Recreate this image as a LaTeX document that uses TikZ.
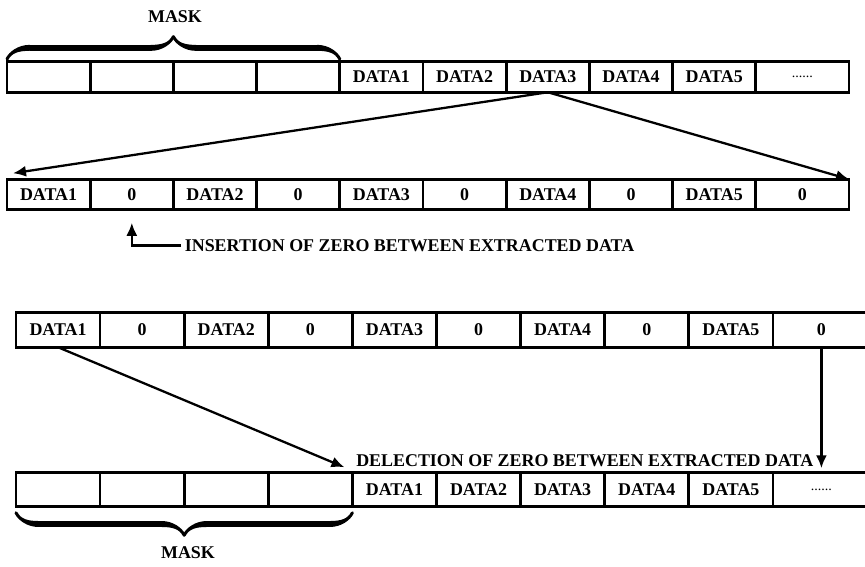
\documentclass[tikz,border=0pt]{standalone}
\usepackage{fontspec}
\setmainfont{Liberation Serif}
\usetikzlibrary{arrows.meta,decorations.pathreplacing,calligraphy}

\tikzset{
  cellaA/.style={draw, line width=1.5pt, inner sep=0pt, outer sep=0pt,
    minimum width=1.664cm, minimum height=0.61cm,
    font=\fontsize{10.2}{12}\selectfont\bfseries},
  cellaB/.style={cellaA, minimum width=1.682cm, minimum height=0.69cm},
  etich/.style={font=\fontsize{10.2}{12}\selectfont\bfseries, inner sep=2pt},
  freccia/.style={-{Latex[length=2.6mm,width=2.2mm]}, line width=1.3pt},
  graffa/.style={decorate, decoration={calligraphic brace, amplitude=0.45cm},
    line width=3.4pt}
}

\begin{document}
\begin{tikzpicture}
    \useasboundingbox (0,0) rectangle (17.3,-11.32);
    % Riga 1: maschera e dati
    \foreach \i/\t in {1/,2/,3/,4/,5/DATA1,6/DATA2,7/DATA3,8/DATA4,9/DATA5}
        \node[cellaA] (r1c\i) at ({0.14+1.664*(\i-0.5)},-1.54) {\t};
    \node[cellaA, minimum width=1.864cm] (r1c10) at (16.048,-1.54)
        {\mdseries\fontsize{8}{8}\selectfont ......};
    \draw[graffa] ([yshift=1.5pt]r1c1.north west) -- ([yshift=1.5pt]r1c4.north east);
    \node[etich] (mask1) at (3.5,-0.34) {MASK};
    
    % Riga 2: inserimento degli zeri
    \foreach \i/\t in {1/DATA1,2/0,3/DATA2,4/0,5/DATA3,6/0,7/DATA4,8/0,9/DATA5}
        \node[cellaA] (r2c\i) at ({0.14+1.664*(\i-0.5)},-3.89) {\t};
    \node[cellaA, minimum width=1.864cm] (r2c10) at (16.048,-3.89) {0};
    
    \draw[freccia] (r1c7.south) -- ([shift={(0.12,0.12)}]r2c1.north west);
    \draw[freccia] (r1c7.south) -- (r2c10.north east);
    
    % Nota sull'inserimento
    \node[etich, anchor=west] (ins) at (3.62,-4.91)
        {INSERTION OF ZERO BETWEEN EXTRACTED DATA};
    \draw[freccia, shorten >=0.26cm] (ins.west) -| (r2c2.south);
    
    % Riga 3: dati con zeri
    \foreach \i/\t in {1/DATA1,2/0,3/DATA2,4/0,5/DATA3,6/0,7/DATA4,8/0,9/DATA5}
        \node[cellaB] (r3c\i) at ({0.32+1.682*(\i-0.5)},-6.6) {\t};
    \node[cellaB, minimum width=1.94cm] (r3c10) at (16.428,-6.6) {0};
    
    % Riga 4: eliminazione degli zeri
    \foreach \i/\t in {1/,2/,3/,4/,5/DATA1,6/DATA2,7/DATA3,8/DATA4,9/DATA5}
        \node[cellaB] (r4c\i) at ({0.32+1.682*(\i-0.5)},-9.79) {\t};
    \node[cellaB, minimum width=1.94cm] (r4c10) at (16.428,-9.79)
        {\mdseries\fontsize{8}{8}\selectfont ......};
    \draw[graffa] ([yshift=-0.12cm]r4c4.south east) -- ([yshift=-0.12cm]r4c1.south west);
    \node[etich] (mask2) at (3.76,-11.06) {MASK};
    
    \node[etich, anchor=south west] (del) at ([yshift=0.04cm]r4c5.north west)
        {DELECTION OF ZERO BETWEEN EXTRACTED DATA};
    
    \draw[freccia] (r3c1.south) -- ([shift={(-0.16,0.1)}]r4c5.north west);
    \draw[freccia, shorten >=0.08cm] (r3c10.south) -- (r4c10.north);
\end{tikzpicture}
\end{document}
